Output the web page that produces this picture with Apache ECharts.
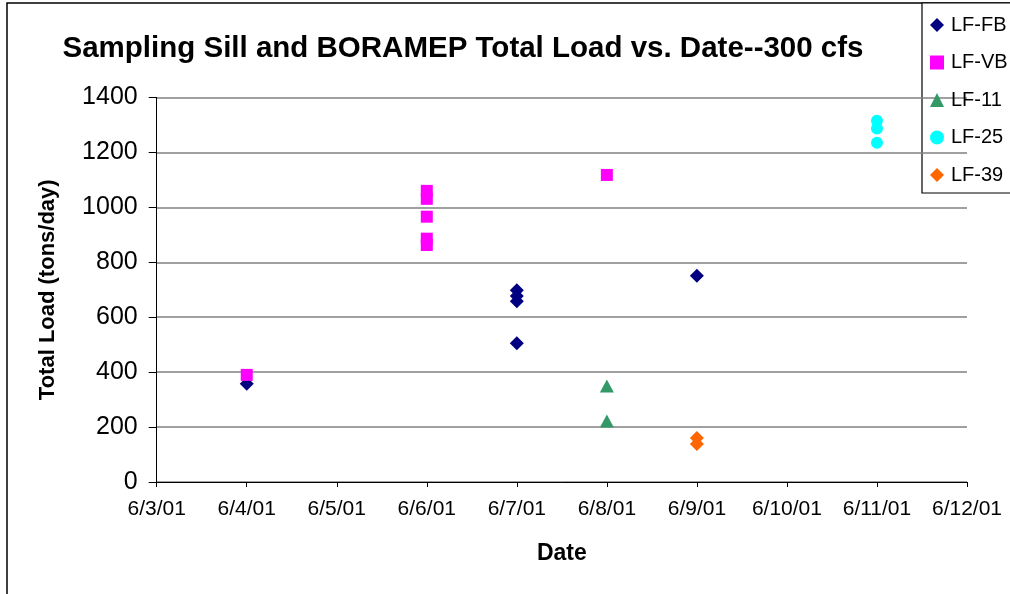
<!DOCTYPE html>
<html><head><meta charset="utf-8">
<script src="https://cdn.jsdelivr.net/npm/echarts@6/dist/echarts.min.js"></script>
<style>html,body{margin:0;padding:0;background:#fff}#c{width:1010px;height:594px}</style>
</head><body><div id="c"></div>
<script>
var titleText = 'Sampling Sill and BORAMEP Total Load vs. Date--300 cfs';
var xTickStart = '2001-06-03';
var xTickEnd = '2001-06-12';
var yTicks = [0, 200, 400, 600, 800, 1000, 1200, 1400];

var fbDates = ['2001-06-04','2001-06-07','2001-06-07','2001-06-07','2001-06-07','2001-06-09'];
var fbValues = [358, 698, 677, 658, 505, 751];
var vbDates = ['2001-06-04','2001-06-06','2001-06-06','2001-06-06','2001-06-06','2001-06-06','2001-06-08'];
var vbValues = [390, 1060, 1031, 966, 886, 863, 1118];
var lf11Dates = ['2001-06-08','2001-06-08'];
var lf11Values = [350, 222];
var lf25Dates = ['2001-06-11','2001-06-11','2001-06-11'];
var lf25Values = [1315, 1287, 1235];
var lf39Dates = ['2001-06-09','2001-06-09'];
var lf39Values = [160, 138];

var DAY = 86400000;
function ts(s){ var p = s.split('-'); return Date.UTC(+p[0], +p[1]-1, +p[2]); }
function pts(d, v){ return d.map(function(x,i){ return [ts(x), v[i]]; }); }

var FONT = 'Liberation Sans';
var chart = echarts.init(document.getElementById('c'), null, {renderer:'canvas'});
chart.setOption({
  animation: false,
  backgroundColor: '#fff',
  title: {
    text: titleText, left: 458, top: 29, textAlign: 'center',
    textStyle: {fontFamily: FONT, fontWeight: 'bold', fontSize: 29.5, color: '#000'}
  },
  grid: {left: 156.7, right: 43, top: 97.5, bottom: 112, containLabel: false},
  xAxis: {
    type: 'value', min: ts(xTickStart), max: ts(xTickEnd), interval: DAY,
    name: 'Date', nameLocation: 'middle', nameGap: 60,
    nameTextStyle: {fontFamily: FONT, fontWeight: 'bold', fontSize: 23, color: '#000'},
    axisLine: {lineStyle: {color: '#000', width: 1}},
    axisTick: {show: true, inside: false, length: 5, lineStyle: {color: '#000'}},
    axisLabel: {
      margin: 17, fontFamily: FONT, fontSize: 21, color: '#000',
      formatter: function(v){ var d = new Date(v); return (d.getUTCMonth()+1) + '/' + d.getUTCDate() + '/01'; }
    },
    splitLine: {show: false}
  },
  yAxis: {
    type: 'value', min: yTicks[0], max: yTicks[yTicks.length-1], interval: yTicks[1]-yTicks[0],
    name: 'Total Load (tons/day)', nameLocation: 'middle', nameGap: 98, nameRotate: 90,
    nameTextStyle: {fontFamily: FONT, fontWeight: 'bold', fontSize: 22, color: '#000'},
    axisLine: {show: true, lineStyle: {color: '#000', width: 1}},
    axisTick: {show: true, inside: false, length: 8, lineStyle: {color: '#000'}},
    axisLabel: {margin: 19, fontFamily: FONT, fontSize: 25, color: '#000',
      formatter: function(v){ return String(v); }},
    splitLine: {show: true, lineStyle: {color: '#808080', width: 1.5}}
  },
  legend: {
    orient: 'vertical', left: 930, top: 15, padding: 0, itemGap: 17.5,
    itemWidth: 14, itemHeight: 14,
    textStyle: {fontFamily: FONT, fontSize: 20, color: '#000', lineHeight: 20, padding: [0,0,0,2]},
    data: ['LF-FB','LF-VB','LF-11','LF-25','LF-39']
  },
  graphic: [
    {type: 'rect', shape: {x: 7, y: 3, width: 1100, height: 700}, style: {fill: 'none', stroke: '#000', lineWidth: 1.5}, silent: true, z: -1},
    {type: 'rect', shape: {x: 922, y: 3, width: 200, height: 190}, style: {fill: '#fff', stroke: '#000', lineWidth: 1.2}, silent: true, z: 0}
  ],
  series: [
    {name: 'LF-FB', type: 'scatter', symbol: 'diamond', symbolSize: [14,14], itemStyle: {color: '#000080', opacity: 1}, data: pts(fbDates, fbValues)},
    {name: 'LF-VB', type: 'scatter', symbol: 'rect', symbolSize: [12,12], itemStyle: {color: '#FF00FF', opacity: 1}, data: pts(vbDates, vbValues)},
    {name: 'LF-11', type: 'scatter', symbol: 'triangle', symbolSize: [14,13], itemStyle: {color: '#339966', opacity: 1}, data: pts(lf11Dates, lf11Values)},
    {name: 'LF-25', type: 'scatter', symbol: 'circle', symbolSize: 12, itemStyle: {color: '#00FFFF', opacity: 1}, data: pts(lf25Dates, lf25Values)},
    {name: 'LF-39', type: 'scatter', symbol: 'diamond', symbolSize: [14,14], itemStyle: {color: '#FF6600', opacity: 1}, data: pts(lf39Dates, lf39Values)}
  ]
});
</script></body></html>
